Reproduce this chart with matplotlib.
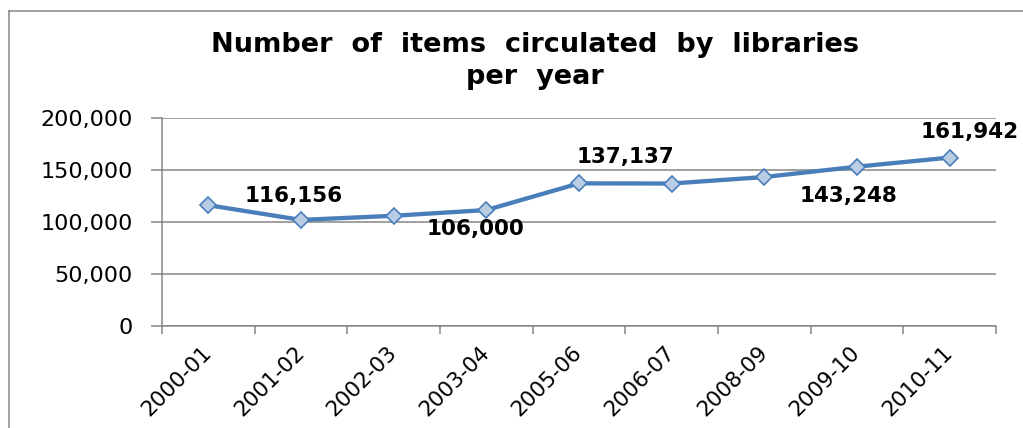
import matplotlib
matplotlib.use("Agg")
import matplotlib.pyplot as plt
from matplotlib.lines import Line2D
from matplotlib.ticker import FuncFormatter, MultipleLocator

# Library circulation by financial year
years = ["2000-01", "2001-02", "2002-03", "2003-04", "2005-06",
         "2006-07", "2008-09", "2009-10", "2010-11"]
items = [116156, 102000, 106000, 111500, 137137, 137000, 143248, 153200, 161942]

# Points that carry a value label, with the label offset in pixels
labelled = [0, 2, 4, 6, 8]
label_offsets = [(85, 9), (82, -13), (46, 26), (84, -19), (20, 26)]

title = "Number  of  items  circulated  by  libraries\nper  year"

line_color = "#4a7ebb"
marker_face = "#b9cde5"
grid_color = "#868686"

fig = plt.figure(figsize=(10.23, 4.28), dpi=100)
ax = fig.add_axes([0.1584, 0.2383, 0.9736 - 0.1584, 0.7243 - 0.2383])

x = list(range(len(years)))
ax.plot(x, items, color=line_color, lw=3.1, marker="D", ms=8.5,
        mfc=marker_face, mec=line_color, mew=1.2, zorder=3, clip_on=False)

for i, (dx, dy) in zip(labelled, label_offsets):
    ax.annotate(f"{items[i]:,}", (x[i], items[i]), xytext=(dx, dy),
                textcoords="offset pixels", ha="center", va="center",
                fontsize=15.5, fontweight="bold", color="black",
                family="DejaVu Sans")

ax.set_xlim(-0.5, len(years) - 0.5)
ax.set_ylim(0, 200000)
ax.yaxis.set_major_locator(MultipleLocator(50000))
ax.yaxis.set_major_formatter(FuncFormatter(lambda v, p: f"{int(v):,}"))
ax.grid(axis="y", color=grid_color, lw=1.1)
ax.set_axisbelow(True)

# category labels at centres, tick marks at boundaries
ax.set_xticks(x)
ax.set_xticklabels(years, rotation=45, ha="right", va="center",
                   rotation_mode="anchor", fontsize=15.5)
ax.set_xticks([i - 0.5 for i in range(len(years) + 1)], minor=True)
ax.tick_params(axis="x", which="major", length=0, pad=17)
ax.tick_params(axis="x", which="minor", length=6, width=1.1, color=grid_color)
ax.tick_params(axis="y", length=8, width=1.1, color=grid_color, pad=13,
               labelsize=16)

for side in ("top", "right"):
    ax.spines[side].set_visible(False)
for side in ("left", "bottom"):
    ax.spines[side].set_color(grid_color)
    ax.spines[side].set_linewidth(1.1)

fig.text(0.523, 0.858, title, ha="center", va="center", fontsize=19.5,
         fontweight="bold", linespacing=1.3)

# chart-area border (left and top edges)
fig.add_artist(Line2D([0.009, 0.009], [0.0, 0.975], color=grid_color, lw=1.1))
fig.add_artist(Line2D([0.009, 1.0], [0.975, 0.975], color=grid_color, lw=1.1))

fig.savefig("out.png", dpi=100)
